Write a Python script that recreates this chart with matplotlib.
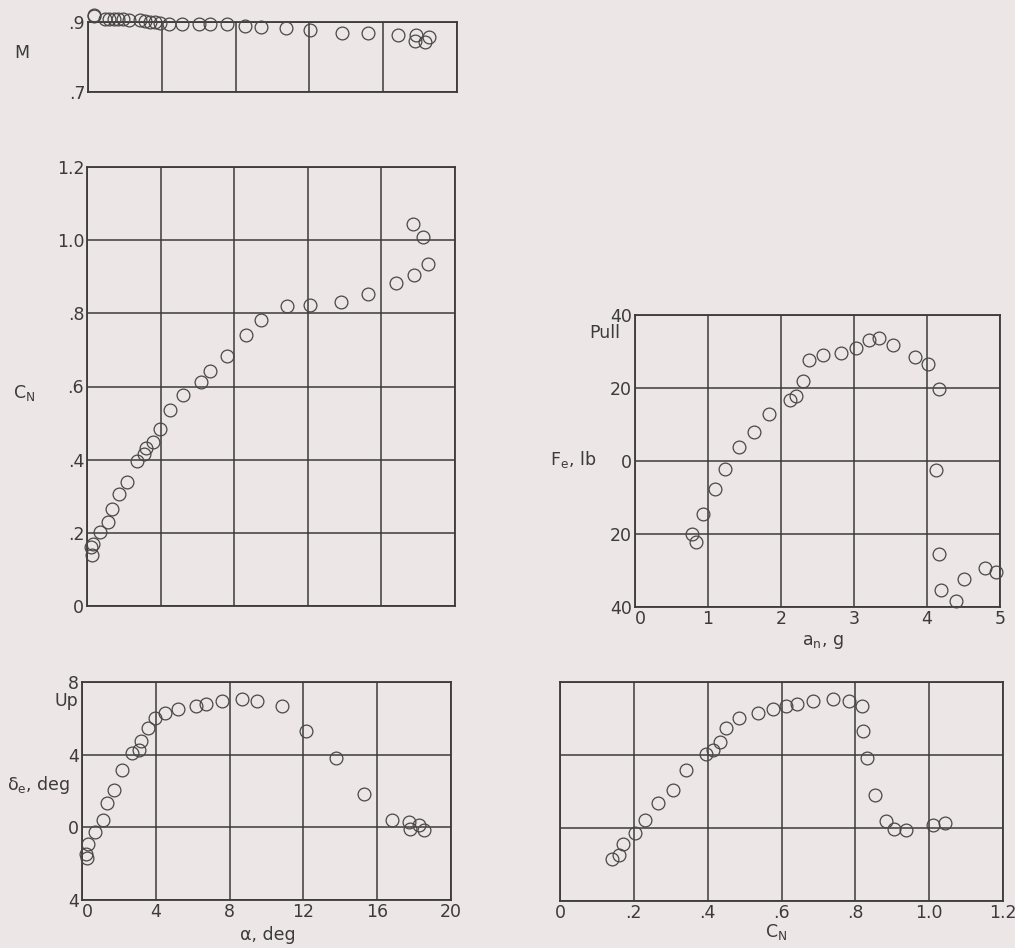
import matplotlib
matplotlib.use("Agg")
import matplotlib.pyplot as plt
from matplotlib.ticker import FixedLocator, FixedFormatter

# angle of attack run (shared by C_N and elevator panels)
alpha = [0.27, 0.2, 0.32, 0.7, 1.12, 1.35, 1.75, 2.15, 2.7, 3.1, 3.22, 3.58, 3.96,
         4.52, 5.23, 6.17, 6.7, 7.6, 8.65, 9.46, 10.86, 12.14, 13.79, 15.26,
         16.82, 17.72, 17.78, 18.25, 18.55]
cn = [0.14, 0.16, 0.17, 0.203, 0.23, 0.265, 0.305, 0.34, 0.395, 0.415, 0.433, 0.449,
      0.485, 0.535, 0.577, 0.612, 0.642, 0.684, 0.74, 0.783, 0.819, 0.822, 0.832,
      0.853, 0.882, 1.044, 0.905, 1.01, 0.936]
delta_e = [-1.7, -1.47, -0.9, -0.26, 0.42, 1.36, 2.07, 3.16, 4.07, 4.28, 4.73, 5.48,
           6.04, 6.3, 6.5, 6.68, 6.8, 6.95, 7.05, 6.95, 6.67, 5.3, 3.82, 1.83,
           0.4, 0.30, -0.08, 0.14, -0.12]

# Mach number
alpha_m = [0.3, 0.3, 0.9, 1.15, 1.4, 1.65, 1.9, 2.2, 2.8, 3.1, 3.35, 3.65, 3.9, 4.4,
           5.1, 6.0, 6.6, 7.55, 8.5, 9.35, 10.75, 12.05, 13.75, 15.15, 16.8, 17.8,
           17.75, 18.25, 18.5]
mach = [0.92, 0.918, 0.91, 0.91, 0.91, 0.908, 0.908, 0.905, 0.905, 0.903, 0.90, 0.90,
        0.898, 0.895, 0.895, 0.895, 0.895, 0.893, 0.89, 0.885, 0.883, 0.876, 0.870,
        0.870, 0.863, 0.862, 0.845, 0.843, 0.857]

# stick force vs normal acceleration
a_n = [0.78, 0.84, 0.93, 1.09, 1.23, 1.43, 1.63, 1.83, 2.12, 2.21, 2.30, 2.38, 2.58,
       2.82, 3.03, 3.21, 3.34, 3.54, 3.83, 4.02, 4.16, 4.13, 4.16, 4.19, 4.40, 4.50,
       4.79, 4.95]
f_e = [-20.0, -22.2, -14.5, -7.8, -2.1, 3.9, 7.9, 12.9, 16.8, 17.9, 22.0, 27.7, 29.0,
       29.7, 30.9, 33.2, 33.8, 31.8, 28.6, 26.6, 19.7, -2.5, -25.4, -35.4, -38.3,
       -32.2, -29.4, -30.4]

BG = "#ece6e7"
INK = "#3c3a3a"
W, H = 1015, 948

plt.rcParams["font.family"] = ["DejaVu Sans"]
plt.rcParams["font.size"] = 12
plt.rcParams["text.color"] = INK

fig = plt.figure(figsize=(W / 100, H / 100), dpi=100, facecolor=BG)


def make_axes(x0, y0, x1, y1):
    # pixel box -> figure fraction
    ax = fig.add_axes([x0 / W, 1 - y1 / H, (x1 - x0) / W, (y1 - y0) / H])
    ax.set_facecolor(BG)
    for s in ax.spines.values():
        s.set_color(INK)
        s.set_linewidth(1.3)
    ax.tick_params(length=0, colors=INK, labelsize=12.5, pad=2)
    ax.grid(True, color=INK, linewidth=1.1)
    ax.set_axisbelow(True)
    return ax


def set_ticks(axis, values, labels):
    axis.set_major_locator(FixedLocator(values))
    axis.set_major_formatter(FixedFormatter(labels))


def circles(ax, x, y):
    ax.plot(x, y, linestyle="none", marker="o", markersize=9.2,
            markerfacecolor="none", markeredgecolor="#4a4747",
            markeredgewidth=0.9, clip_on=False, zorder=3)


alpha_ticks = [0, 4, 8, 12, 16, 20]

# Mach number
ax_m = make_axes(88, 22, 457, 92)
circles(ax_m, alpha_m, mach)
ax_m.set_xlim(0, 20)
ax_m.set_ylim(0.7, 0.9)
set_ticks(ax_m.xaxis, alpha_ticks, [""] * 6)
set_ticks(ax_m.yaxis, [0.7, 0.9], [".7", ".9"])

# normal-force coefficient
ax_cn = make_axes(87, 167, 455, 606)
circles(ax_cn, alpha, cn)
ax_cn.set_xlim(0, 20)
ax_cn.set_ylim(0, 1.2)
set_ticks(ax_cn.xaxis, alpha_ticks, [""] * 6)
set_ticks(ax_cn.yaxis, [0, 0.2, 0.4, 0.6, 0.8, 1.0, 1.2],
          ["0", ".2", ".4", ".6", ".8", "1.0", "1.2"])

# elevator angle vs alpha
ax_de = make_axes(82, 682, 451, 900)
circles(ax_de, alpha, delta_e)
ax_de.set_xlim(0, 20)
ax_de.set_ylim(-4, 8)
set_ticks(ax_de.xaxis, alpha_ticks, ["0", "4", "8", "12", "16", "20"])
set_ticks(ax_de.yaxis, [-4, 0, 4, 8], ["4", "0", "4", "8"])
# corner labels read as "40": keep the x-axis zero just right of the spine
ax_de.get_xticklabels()[0].set_ha("left")

# stick force
ax_fe = make_axes(635, 315, 1000, 607)
circles(ax_fe, a_n, f_e)
ax_fe.set_xlim(0, 5)
ax_fe.set_ylim(-40, 40)
set_ticks(ax_fe.xaxis, [0, 1, 2, 3, 4, 5], ["0", "1", "2", "3", "4", "5"])
set_ticks(ax_fe.yaxis, [-40, -20, 0, 20, 40], ["40", "20", "0", "20", "40"])
ax_fe.get_xticklabels()[0].set_ha("left")

# elevator angle vs C_N
ax_dc = make_axes(560, 682, 1003, 901)
circles(ax_dc, cn, delta_e)
ax_dc.set_xlim(0, 1.2)
ax_dc.set_ylim(-4, 8)
set_ticks(ax_dc.xaxis, [0, 0.2, 0.4, 0.6, 0.8, 1.0, 1.2],
          ["0", ".2", ".4", ".6", ".8", "1.0", "1.2"])
set_ticks(ax_dc.yaxis, [-4, 0, 4, 8], [""] * 4)


def label(x, y, s, ha="center"):
    fig.text(x / W, 1 - y / H, s, ha=ha, va="center", fontsize=12.5, color=INK)


label(22, 53, "M")
label(24, 393, r"C$_\mathregular{N}$")
label(7, 785, r"δ$_\mathregular{e}$, deg", ha="left")
label(66, 701, "Up")
label(268, 935, "α, deg")
label(573, 459, r"F$_\mathregular{e}$, lb")
label(605, 333, "Pull")
label(823, 642, r"a$_\mathregular{n}$, g")
label(776, 932, r"C$_\mathregular{N}$")

fig.savefig("out.png", dpi=100, facecolor=BG)
